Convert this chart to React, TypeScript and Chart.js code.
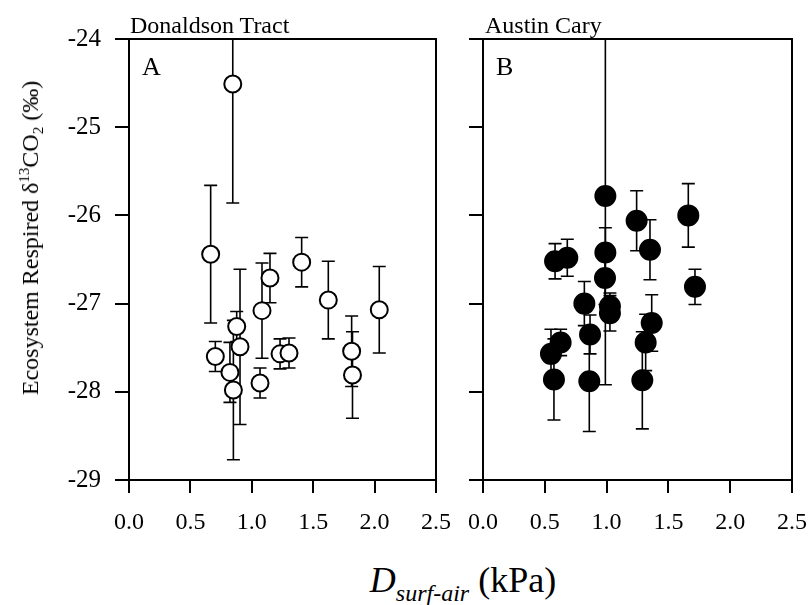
import React, { useEffect, useRef } from "react";
import { Chart, registerables } from "chart.js";

Chart.register(...registerables);

// Panel A: Donaldson Tract (open circles)
const xA = [0.665, 0.845, 0.703, 0.822, 0.85, 0.877, 0.904, 1.083, 1.148, 1.067, 1.23, 1.303, 1.406, 1.623, 1.813, 1.82, 2.038];
const yA = [-26.44, -24.51, -27.6, -27.78, -27.98, -27.26, -27.49, -27.08, -26.71, -27.9, -27.57, -27.56, -26.53, -26.96, -27.54, -27.81, -27.07];
const eA = [0.78, 1.35, 0.17, 0.34, 0.79, 0.17, 0.88, 0.54, 0.28, 0.17, 0.17, 0.17, 0.28, 0.44, 0.4, 0.49, 0.49];

// Panel B: Austin Cary (filled circles)
const xB = [0.583, 0.682, 0.99, 0.99, 0.987, 1.243, 1.351, 1.661, 1.715, 0.82, 1.027, 1.027, 1.365, 0.866, 0.628, 0.55, 1.316, 0.574, 0.86, 1.289];
const yB = [-26.52, -26.48, -25.78, -26.42, -26.71, -26.06, -26.39, -26.0, -26.81, -27.0, -27.03, -27.11, -27.22, -27.35, -27.44, -27.57, -27.44, -27.86, -27.88, -27.87];
const eB = [0.2, 0.21, 2.14, 0.28, 0.3, 0.34, 0.34, 0.36, 0.2, 0.25, 0.15, 0.2, 0.32, 0.22, 0.15, 0.28, 0.32, 0.46, 0.57, 0.55];

const yTicks = [-29, -28, -27, -26, -25, -24];
const xTicks = [0, 0.5, 1, 1.5, 2, 2.5];

const FONT = "'Liberation Serif', 'Times New Roman', serif";

const errorBarPlugin = {
  id: "errorBars",
  beforeDatasetsDraw(chart: any) {
    const errs: number[] = chart.options.plugins.errorBars.errors;
    const { ctx, chartArea } = chart;
    const ys = chart.scales.y;
    const meta = chart.getDatasetMeta(0);
    const data = chart.data.datasets[0].data;
    ctx.save();
    ctx.beginPath();
    ctx.rect(chartArea.left, chartArea.top, chartArea.right - chartArea.left, chartArea.bottom - chartArea.top);
    ctx.clip();
    ctx.strokeStyle = "#000";
    ctx.lineWidth = 1.6;
    meta.data.forEach((pt: any, i: number) => {
      const v = data[i].y;
      const e = errs[i];
      const yt = ys.getPixelForValue(v + e);
      const yb = ys.getPixelForValue(v - e);
      const x = pt.x;
      ctx.beginPath();
      ctx.moveTo(x, yt);
      ctx.lineTo(x, yb);
      ctx.moveTo(x - 6.5, yt);
      ctx.lineTo(x + 6.5, yt);
      ctx.moveTo(x - 6.5, yb);
      ctx.lineTo(x + 6.5, yb);
      ctx.stroke();
    });
    ctx.restore();
  },
};

const framePlugin = {
  id: "frame",
  afterDraw(chart: any) {
    const { ctx, chartArea } = chart;
    ctx.save();
    ctx.strokeStyle = "#000";
    ctx.lineWidth = 2;
    ctx.beginPath();
    ctx.moveTo(chartArea.left, chartArea.top);
    ctx.lineTo(chartArea.right, chartArea.top);
    ctx.lineTo(chartArea.right, chartArea.bottom);
    ctx.stroke();
    ctx.restore();
  },
};

function makeConfig(xs: number[], ys: number[], es: number[], filled: boolean, yAxisWidth: number, padRight: number, showYLabels: boolean) {
  return {
    type: "scatter" as const,
    data: {
      datasets: [
        {
          data: xs.map((x, i) => ({ x, y: ys[i] })),
          pointRadius: filled ? 10 : 8.5,
          pointHoverRadius: filled ? 10 : 8.5,
          pointBackgroundColor: filled ? "#000" : "#fff",
          pointBorderColor: "#000",
          pointBorderWidth: 2,
          clip: false,
        },
      ],
    },
    options: {
      animation: false,
      responsive: false,
      maintainAspectRatio: false,
      layout: { padding: { left: 0, top: 39, right: padRight, bottom: 0 } },
      plugins: {
        legend: { display: false },
        tooltip: { enabled: false },
        errorBars: { errors: es },
      },
      scales: {
        x: {
          type: "linear",
          min: 0,
          max: 2.5,
          afterBuildTicks: (s: any) => {
            s.ticks = xTicks.map((v) => ({ value: v }));
          },
          afterFit: (s: any) => {
            s.height = 65;
            s.paddingLeft = 0;
            s.paddingRight = 0;
          },
          ticks: {
            callback: (v: any) => Number(v).toFixed(1),
            color: "#000",
            font: { family: FONT, size: 24 },
            padding: 15,
            maxRotation: 0,
            autoSkip: false,
          },
          grid: { drawOnChartArea: false, drawTicks: true, tickLength: 13, color: "#000", lineWidth: 2 },
          border: { display: true, color: "#000", width: 2 },
        },
        y: {
          type: "linear",
          min: -29,
          max: -24,
          afterBuildTicks: (s: any) => {
            s.ticks = yTicks.map((v) => ({ value: v }));
          },
          afterFit: (s: any) => {
            s.width = yAxisWidth;
            s.paddingTop = 0;
            s.paddingBottom = 0;
          },
          ticks: {
            callback: (v: any) => (showYLabels ? String(v) : ""),
            color: "#000",
            font: { family: FONT, size: 25 },
            padding: 14,
            autoSkip: false,
          },
          grid: { drawOnChartArea: false, drawTicks: true, tickLength: 14, color: "#000", lineWidth: 2 },
          border: { display: true, color: "#000", width: 2 },
        },
      },
    },
    plugins: [errorBarPlugin, framePlugin],
  };
}

function Panel(props: { xs: number[]; ys: number[]; es: number[]; filled: boolean; left: number; width: number; yAxisWidth: number; padRight: number; showYLabels: boolean }) {
  const ref = useRef<HTMLCanvasElement>(null);
  useEffect(() => {
    if (!ref.current) return;
    const chart = new Chart(ref.current, makeConfig(props.xs, props.ys, props.es, props.filled, props.yAxisWidth, props.padRight, props.showYLabels) as any);
    return () => chart.destroy();
  }, []);
  return (
    <canvas
      ref={ref}
      width={props.width}
      height={545}
      style={{ position: "absolute", left: props.left, top: 0, width: props.width, height: 545 }}
    />
  );
}

export default function App() {
  const txt: React.CSSProperties = { position: "absolute", fontFamily: FONT, color: "#000", lineHeight: 1, whiteSpace: "nowrap" };
  return (
    <div style={{ position: "absolute", left: 0, top: 0, width: 809, height: 605, background: "#fff", overflow: "hidden" }}>
      <Panel xs={xA} ys={yA} es={eA} filled={false} left={0} width={470} yAxisWidth={129} padRight={34} showYLabels={true} />
      <Panel xs={xB} ys={yB} es={eB} filled={true} left={445} width={364} yAxisWidth={38} padRight={17} showYLabels={false} />
      <div style={{ ...txt, left: 130, top: 13, fontSize: 24 }}>Donaldson Tract</div>
      <div style={{ ...txt, left: 485, top: 13, fontSize: 24 }}>Austin Cary</div>
      <div style={{ ...txt, left: 142, top: 54, fontSize: 26 }}>A</div>
      <div style={{ ...txt, left: 496, top: 54, fontSize: 26 }}>B</div>
      <div
        style={{
          ...txt,
          left: 30,
          top: 238,
          fontSize: 24,
          transform: "translate(-50%, -50%) rotate(-90deg)",
        }}
      >
        Ecosystem Respired δ
        <span style={{ fontSize: 15, position: "relative", top: -9 }}>13</span>
        CO
        <span style={{ fontSize: 15, position: "relative", top: 5 }}>2</span> (‰)
      </div>
      <div style={{ ...txt, left: 463, top: 562, fontSize: 36, transform: "translateX(-50%)" }}>
        <span style={{ fontStyle: "italic" }}>D</span>
        <span style={{ fontStyle: "italic", fontSize: 24, position: "relative", top: 9 }}>surf-air</span>
        <span> (kPa)</span>
      </div>
    </div>
  );
}
